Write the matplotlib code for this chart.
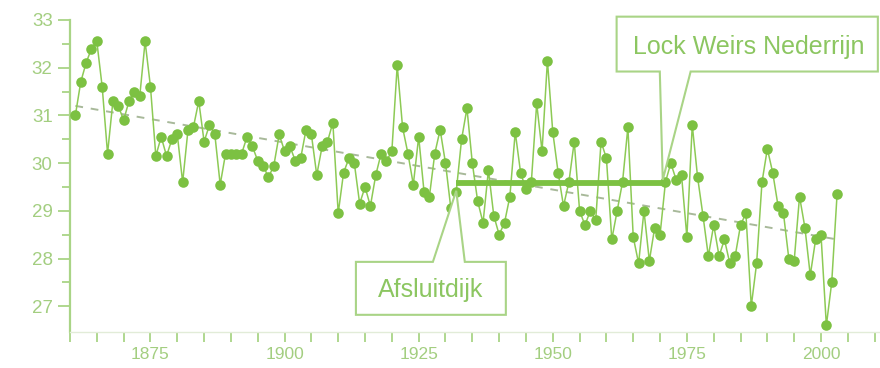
import numpy as np
import matplotlib
matplotlib.use('Agg')
import matplotlib.pyplot as plt
from matplotlib.patches import Polygon

plt.rcParams['font.family'] = ['Liberation Sans', 'DejaVu Sans']

# yearly values, 1861-2003
years = np.arange(1861, 2004)
values = [
    31.0, 31.7, 32.1, 32.4, 32.55, 31.6, 30.2, 31.3, 31.2, 30.9,      # 1861-1870
    31.3, 31.5, 31.4, 32.55, 31.6, 30.15, 30.55, 30.15, 30.5, 30.6,   # 1871-1880
    29.6, 30.7, 30.75, 31.3, 30.45, 30.8, 30.6, 29.55, 30.2, 30.2,    # 1881-1890
    30.2, 30.2, 30.55, 30.35, 30.05, 29.95, 29.7, 29.95, 30.6, 30.25, # 1891-1900
    30.35, 30.05, 30.1, 30.7, 30.6, 29.75, 30.35, 30.45, 30.85, 28.95,# 1901-1910
    29.8, 30.1, 30.0, 29.15, 29.5, 29.1, 29.75, 30.2, 30.05, 30.25,   # 1911-1920
    32.05, 30.75, 30.2, 29.55, 30.55, 29.4, 29.3, 30.2, 30.7, 30.0,   # 1921-1930
    29.05, 29.4, 30.5, 31.15, 30.0, 29.2, 28.75, 29.85, 28.9, 28.5,   # 1931-1940
    28.75, 29.3, 30.65, 29.8, 29.45, 29.6, 31.25, 30.25, 32.15, 30.65,# 1941-1950
    29.8, 29.1, 29.6, 30.45, 29.0, 28.7, 29.0, 28.8, 30.45, 30.1,     # 1951-1960
    28.4, 29.0, 29.6, 30.75, 28.45, 27.9, 29.0, 27.95, 28.65, 28.5,   # 1961-1970
    29.6, 30.0, 29.65, 29.75, 28.45, 30.8, 29.7, 28.9, 28.05, 28.7,   # 1971-1980
    28.05, 28.4, 27.9, 28.05, 28.7, 28.95, 27.0, 27.9, 29.6, 30.3,    # 1981-1990
    29.8, 29.1, 28.95, 28.0, 27.95, 29.3, 28.65, 27.65, 28.4, 28.5,   # 1991-2000
    26.6, 27.5, 29.35,                                                # 2001-2003
]

# dashed trend (end points)
trend_years = [1861, 2003]
trend_values = [31.2, 28.4]

# period level between Afsluitdijk and lock weirs
level_years = [1932, 1970.5]
level_value = 29.58

y_ticks = [27, 28, 29, 30, 31, 32, 33]
x_label_ticks = [1875, 1900, 1925, 1950, 1975, 2000]

GREEN = '#7cc142'
LINE = '#8dca55'
AXIS = '#a9d486'
LABEL = '#a3ce80'
TEXT = '#8cc661'
TREND = '#a8b99a'

fig = plt.figure(figsize=(8.8, 3.68), dpi=100)
ax = fig.add_axes([70 / 880, 36 / 368, 810 / 880, 312 / 368])
ax.set_xlim(1860, 2011)
ax.set_ylim(26.46, 33.0)

ax.plot(trend_years, trend_values, color=TREND, lw=1.4, dashes=(4, 4), zorder=1)
ax.plot(years, values, color=LINE, lw=1.1, zorder=2)
ax.plot(level_years, [level_value, level_value], color=GREEN, lw=4.2,
        solid_capstyle='butt', zorder=3)
ax.plot(years, values, 'o', color=GREEN, markersize=7.6, markeredgewidth=0,
        zorder=4, clip_on=False)

# callouts
afs = [(1927.65, 27.93), (1932.0, 29.42), (1933.6, 27.93), (1941.25, 27.93),
       (1941.25, 26.82), (1913.3, 26.82), (1913.3, 27.93)]
ax.add_patch(Polygon(afs, closed=True, facecolor='white', edgecolor=AXIS,
                     lw=1.5, zorder=5, clip_on=False))
ax.text(1927.3, 27.33, 'Afsluitdijk', ha='center', va='center', fontsize=18,
        color=TEXT, zorder=6)

lock = [(1969.95, 31.92), (1970.5, 29.65), (1975.7, 31.92), (2010.6, 31.92),
        (2010.6, 33.07), (1961.9, 33.07), (1961.9, 31.92)]
ax.add_patch(Polygon(lock, closed=True, facecolor='white', edgecolor=AXIS,
                     lw=1.5, zorder=5, clip_on=False))
ax.text(1986.6, 32.43, 'Lock Weirs Nederrijn', ha='center', va='center',
        fontsize=18, color=TEXT, zorder=6)

# axes styling
for s in ['top', 'right']:
    ax.spines[s].set_visible(False)
ax.spines['left'].set_color(AXIS)
ax.spines['left'].set_linewidth(1.6)
ax.spines['bottom'].set_color('#e2ecd8')
ax.spines['bottom'].set_linewidth(1.0)

ax.set_yticks(y_ticks)
ax.set_yticks(np.arange(27.5, 33, 1.0), minor=True)
ax.set_xticks(x_label_ticks)
ax.set_xticks([t for t in range(1860, 2011, 5) if t not in x_label_ticks], minor=True)

ax.tick_params(axis='y', which='major', length=8.5, width=1.3, color=AXIS,
               labelcolor=LABEL, labelsize=13.5, pad=4)
ax.tick_params(axis='y', which='minor', length=6, width=1.3, color=AXIS)
ax.tick_params(axis='x', which='both', length=7.5, width=1.3, color=AXIS,
               labelcolor=LABEL, labelsize=12.5, pad=3)

fig.savefig('out.png', dpi=100)
